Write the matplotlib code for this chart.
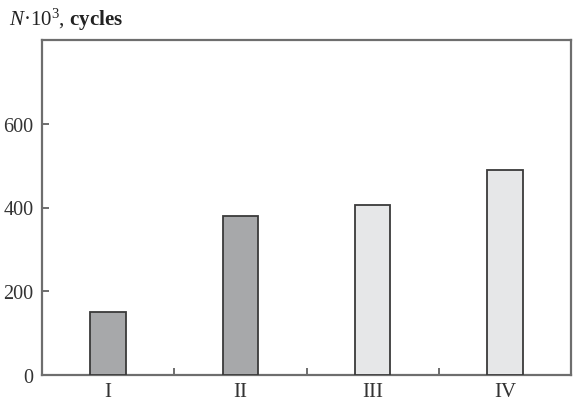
import matplotlib
matplotlib.use("Agg")
import matplotlib.pyplot as plt

categories = ["I", "II", "III", "IV"]
values = [150, 380, 405, 490]
fills = ["#a7a8aa", "#a7a8aa", "#e6e7e8", "#e6e7e8"]
yticks = [0, 200, 400, 600]

plt.rcParams["font.family"] = ["Liberation Serif", "DejaVu Serif"]
plt.rcParams["mathtext.fontset"] = "custom"
plt.rcParams["mathtext.rm"] = "Liberation Serif"
plt.rcParams["mathtext.it"] = "Liberation Serif:italic"
plt.rcParams["mathtext.bf"] = "Liberation Serif:bold"

fig = plt.figure(figsize=(5.73, 4.02), dpi=100)
ax = fig.add_axes([42/573, 1-376/402, (571-42)/573, (376-41)/402])

x = list(range(len(categories)))
ax.bar(x, values, width=0.27, color=fills, edgecolor="#3a3a3a", linewidth=1.3, zorder=3)

ax.set_xlim(-0.5, 3.5)
ax.set_ylim(0, 800)
ax.set_yticks(yticks)
ax.set_xticks(x)
ax.set_xticklabels(categories)
ax.set_xticks([0.5, 1.5, 2.5], minor=True)
ax.tick_params(axis="x", which="major", length=0, pad=5, labelsize=15, labelcolor="#333333")
ax.tick_params(axis="x", which="minor", direction="in", length=5, width=1.2, color="#555555")
ax.tick_params(axis="y", direction="in", length=5, width=1.2, color="#555555", pad=6,
               labelsize=14.5, labelcolor="#333333")
for s in ax.spines.values():
    s.set_color("#6e6e6e")
    s.set_linewidth(1.6)

fig.text(9/573, 1-20/402, r"$N$·10$^3$, $\mathbf{cycles}$", fontsize=15, color="#222222",
         ha="left", va="center")

fig.savefig("out.png", dpi=100)
